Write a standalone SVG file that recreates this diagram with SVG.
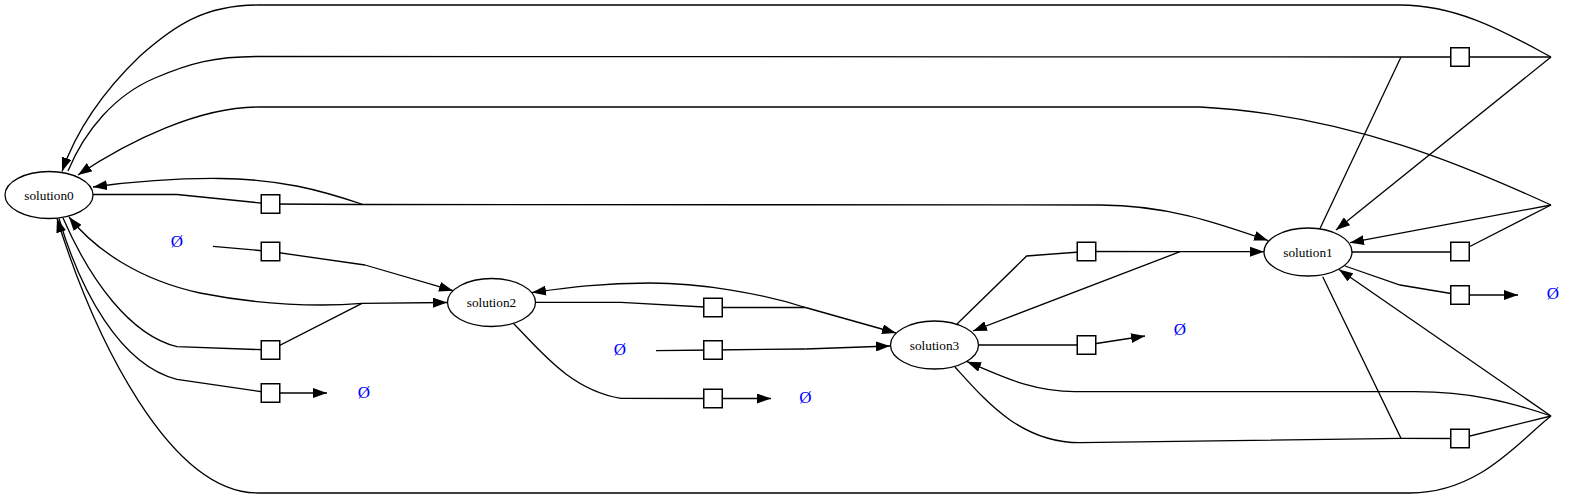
<svg xmlns="http://www.w3.org/2000/svg" width="1595" height="499" viewBox="0 0 1595 499">
<style>
.e{fill:none;stroke:#000;stroke-width:1.3}
.a{marker-end:url(#arr)}
.n ellipse{fill:#fff;stroke:#000;stroke-width:1.3}
.n text{font-family:"Liberation Serif",serif;font-size:13.3px;text-anchor:middle;fill:#000}
.r rect{fill:#fff;stroke:#000;stroke-width:1.5}
.z text{font-family:"Liberation Serif",serif;font-size:17px;text-anchor:middle;fill:#0000ff}
</style>
<defs>
<marker id="arr" markerUnits="userSpaceOnUse" markerWidth="14" markerHeight="10" refX="14" refY="5" orient="auto"><path d="M0,0 L14,5 L0,10 z" fill="#000"/></marker>
</defs>
<rect width="1595" height="499" fill="#fff"/>
<g id="connectors">
<path class="e" d="M93,194.5 L177,194.5 L270.5,204"/>
<path class="e" d="M270.5,204 L363,204.5"/>
<path class="e a" d="M363,204.5 L1100,205 C1165,205 1215,222 1268,240.5"/>
<path class="e a" d="M363,204.5 C320,190 280,179 220,178.5 C170,178 130,182 93,187"/>
<path class="e" d="M213,246.3 L270.5,251.5 L365,265"/>
<path class="e a" d="M365,265 L453,290.7"/>
<path class="e" d="M63,218 C90,280 130,335 177,346.7 L270.5,350 L362,303.3"/>
<path class="e a" d="M362,303.3 L447,302.5"/>
<path class="e a" d="M362,303.3 C320,307 260,305 200,293 C140,280 95,250 69,217"/>
<path class="e" d="M59,218.5 C80,290 120,365 177,379.3 L270.5,393"/>
<path class="e a" d="M270.5,393 L327,393"/>
<path class="e a" d="M1551,416 C1520,440 1480,493 1410,493 L258,493 C170,493 95,340 57,218.5"/>
<path class="e a" d="M1551,57 C1510,35 1460,5 1400,5 L258,5 C205,5 175,25 140,56 C115,80 80,120 62,171.5"/>
<path class="e" d="M68,171 C85,130 115,95 155,78 C190,63 215,56.5 258,56.5 L1401,57 L1551,57"/>
<path class="e" d="M1320,228.5 L1401,57"/>
<path class="e a" d="M1551,57 L1336,230"/>
<path class="e" d="M1352,252 L1460,252"/>
<path class="e" d="M1460,251.5 L1551,205"/>
<path class="e a" d="M1551,205 L1350,242.7"/>
<path class="e a" d="M1551,205 C1470,168 1350,115 1200,107 L258,107 C200,107 130,140 78,175"/>
<path class="e" d="M1345,266 L1400,285 L1460,295"/>
<path class="e a" d="M1460,295 L1518,295"/>
<path class="e" d="M1322.7,276.7 L1401,438.3 L1460,438.5 L1551,416"/>
<path class="e" d="M955,367 C985,400 1020,442.7 1080,442.7 L1401,438.3"/>
<path class="e a" d="M1551,416 C1510,402 1470,391.7 1415,391.7 L1075,391.7 C1030,391.7 1000,375 967,361.7"/>
<path class="e a" d="M1551,416 L1339,269.5"/>
<path class="e" d="M957,324 L1026.7,256 L1086.5,251.5 L1180,251.7"/>
<path class="e a" d="M1180,251.7 L1264,251.7"/>
<path class="e a" d="M1180,251.7 L973,331"/>
<path class="e" d="M978.5,345 L1086.5,345"/>
<path class="e a" d="M1086.5,345 L1145,336"/>
<path class="e" d="M535.5,302.3 L621,302.3 L713,307.5 L805.5,307.5"/>
<path class="e a" d="M805.5,307.5 L896,333"/>
<path class="e a" d="M805.5,307.5 C760,293 700,283 650,283 C600,283 565,288 532,292.5"/>
<path class="e" d="M513,323 C540,350 570,390 621,398.3 L713,398.5"/>
<path class="e a" d="M713,398.5 L771,398.5"/>
<path class="e" d="M656,350.7 L713,350 L805.5,349"/>
<path class="e a" d="M805.5,349 L890,346"/>
</g>
<g id="solution0" class="n"><ellipse cx="49" cy="195" rx="44" ry="23.5"/><text x="49" y="199.5">solution0</text></g>
<g id="solution1" class="n"><ellipse cx="1308" cy="252" rx="44" ry="24"/><text x="1308" y="256.5">solution1</text></g>
<g id="solution2" class="n"><ellipse cx="491.5" cy="302.5" rx="44" ry="24"/><text x="491.5" y="307">solution2</text></g>
<g id="solution3" class="n"><ellipse cx="934.5" cy="345" rx="44" ry="24"/><text x="934.5" y="349.5">solution3</text></g>
<g id="r1" class="r"><rect x="261.25" y="194.75" width="18.5" height="18.5"/></g>
<g id="r2" class="r"><rect x="261.25" y="242.25" width="18.5" height="18.5"/></g>
<g id="r3" class="r"><rect x="261.25" y="340.75" width="18.5" height="18.5"/></g>
<g id="r4" class="r"><rect x="261.25" y="383.75" width="18.5" height="18.5"/></g>
<g id="r5" class="r"><rect x="703.75" y="298.25" width="18.5" height="18.5"/></g>
<g id="r6" class="r"><rect x="703.75" y="340.75" width="18.5" height="18.5"/></g>
<g id="r7" class="r"><rect x="703.75" y="389.25" width="18.5" height="18.5"/></g>
<g id="r8" class="r"><rect x="1077.25" y="242.25" width="18.5" height="18.5"/></g>
<g id="r9" class="r"><rect x="1077.25" y="335.75" width="18.5" height="18.5"/></g>
<g id="r10" class="r"><rect x="1450.75" y="47.75" width="18.5" height="18.5"/></g>
<g id="r11" class="r"><rect x="1450.75" y="242.25" width="18.5" height="18.5"/></g>
<g id="r12" class="r"><rect x="1450.75" y="285.75" width="18.5" height="18.5"/></g>
<g id="r13" class="r"><rect x="1450.75" y="429.25" width="18.5" height="18.5"/></g>
<g id="empty1" class="z"><text x="177" y="247">Ø</text></g>
<g id="empty2" class="z"><text x="364" y="398">Ø</text></g>
<g id="empty3" class="z"><text x="620" y="355">Ø</text></g>
<g id="empty4" class="z"><text x="805.5" y="403">Ø</text></g>
<g id="empty5" class="z"><text x="1180" y="335">Ø</text></g>
<g id="empty6" class="z"><text x="1553" y="299">Ø</text></g>
</svg>
